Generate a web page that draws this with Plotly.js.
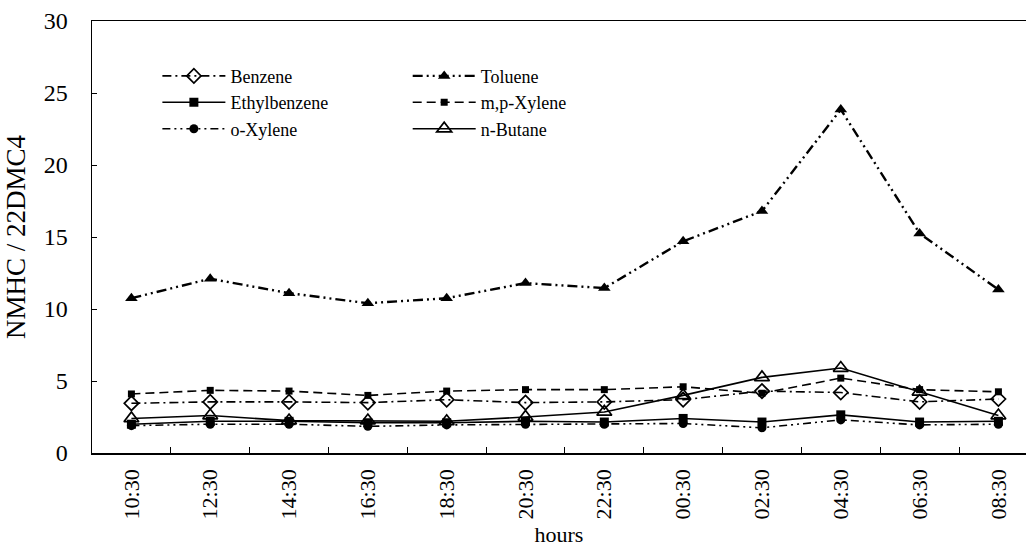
<!DOCTYPE html>
<html>
<head>
<meta charset="utf-8">
<script src="https://cdn.plot.ly/plotly-3.0.1.min.js"></script>
<style>html,body{margin:0;padding:0;background:#fff;}#chart{width:1026px;height:556px;}</style>
</head>
<body>
<div id="chart"></div>
<script>
const hours = ["10:30","12:30","14:30","16:30","18:30","20:30","22:30","00:30","02:30","04:30","06:30","08:30"];
const benzene      = [3.45, 3.55, 3.55, 3.5, 3.7, 3.5, 3.55, 3.7, 4.3, 4.2, 3.55, 3.75];
const toluene      = [10.75, 12.1, 11.1, 10.4, 10.75, 11.8, 11.45, 14.7, 16.8, 23.85, 15.25, 11.35];
const ethylbenzene = [2.0, 2.2, 2.2, 2.1, 2.1, 2.2, 2.15, 2.4, 2.15, 2.65, 2.15, 2.2];
const mpXylene     = [4.1, 4.35, 4.3, 4.0, 4.3, 4.4, 4.4, 4.6, 4.15, 5.2, 4.4, 4.25];
const oXylene      = [1.9, 2.0, 2.0, 1.85, 1.95, 2.0, 2.0, 2.05, 1.75, 2.3, 1.95, 2.0];
const nButane      = [2.4, 2.6, 2.25, 2.25, 2.2, 2.5, 2.85, 4.0, 5.25, 5.9, 4.25, 2.6];

const fontFam = 'Liberation Serif, Times New Roman, serif';

const traces = [
  {name:'Benzene', y:benzene, legend:'legend',
   line:{color:'#000', width:1.6, dash:'9px,4px,2px,4px'},
   marker:{symbol:'diamond-open', size:11, color:'#000', line:{width:1.7}}},
  {name:'Toluene', y:toluene, legend:'legend2',
   line:{color:'#000', width:2.4, dash:'10px,4px,2px,4px,2px,4px'},
   marker:{symbol:'triangle-up', size:11, color:'#000'}},
  {name:'Ethylbenzene', y:ethylbenzene, legend:'legend',
   line:{color:'#000', width:1.6},
   marker:{symbol:'square', size:9, color:'#000'}},
  {name:'m,p-Xylene', y:mpXylene, legend:'legend2',
   line:{color:'#000', width:1.6, dash:'9px,5px'},
   marker:{symbol:'square', size:7, color:'#000'}},
  {name:'o-Xylene', y:oXylene, legend:'legend',
   line:{color:'#000', width:1.6, dash:'8px,4px,2px,4px,2px,4px'},
   marker:{symbol:'circle', size:9, color:'#000'}},
  {name:'n-Butane', y:nButane, legend:'legend2',
   line:{color:'#000', width:1.6},
   marker:{symbol:'triangle-up-open', size:13, color:'#000', line:{width:1.7}}}
].map(t => Object.assign({type:'scatter', mode:'lines+markers', x:hours, showlegend:true}, t));

const legendCommon = {
  font:{family:fontFam, size:18, color:'#000'},
  bgcolor:'rgba(0,0,0,0)', borderwidth:0,
  yanchor:'top', xanchor:'left', itemwidth:63, tracegroupgap:0
};

const layout = {
  width:1026, height:556,
  margin:{l:92, r:0, t:21, b:103},
  paper_bgcolor:'#fff', plot_bgcolor:'#fff',
  font:{family:fontFam, color:'#000'},
  xaxis:{
    type:'category', range:[-0.5, 11.35],
    showgrid:false, zeroline:false,
    showline:true, linecolor:'#000', linewidth:1.5, mirror:true,
    ticks:'inside', tickson:'boundaries', ticklen:6, tickcolor:'#000',
    tickangle:-90, ticklabelstandoff:6,
    tickfont:{family:fontFam, size:22, color:'#000'},
    title:{text:'hours', font:{family:fontFam, size:22, color:'#000'}, standoff:8}
  },
  yaxis:{
    range:[0, 30], dtick:5,
    showgrid:false, zeroline:false,
    showline:true, linecolor:'#000', linewidth:1.5, mirror:true,
    ticks:'inside', ticklen:5, tickcolor:'#000', ticklabelstandoff:18,
    tickfont:{family:fontFam, size:24, color:'#000'},
    title:{text:'NMHC / 22DMC4', font:{family:fontFam, size:27, color:'#000'}, standoff:10}
  },
  legend:Object.assign({x:0.07, y:0.915}, legendCommon),
  legend2:Object.assign({x:0.338, y:0.915}, legendCommon),
  showlegend:true
};

Plotly.newPlot('chart', traces, layout, {displayModeBar:false, staticPlot:true});
</script>
</body>
</html>
